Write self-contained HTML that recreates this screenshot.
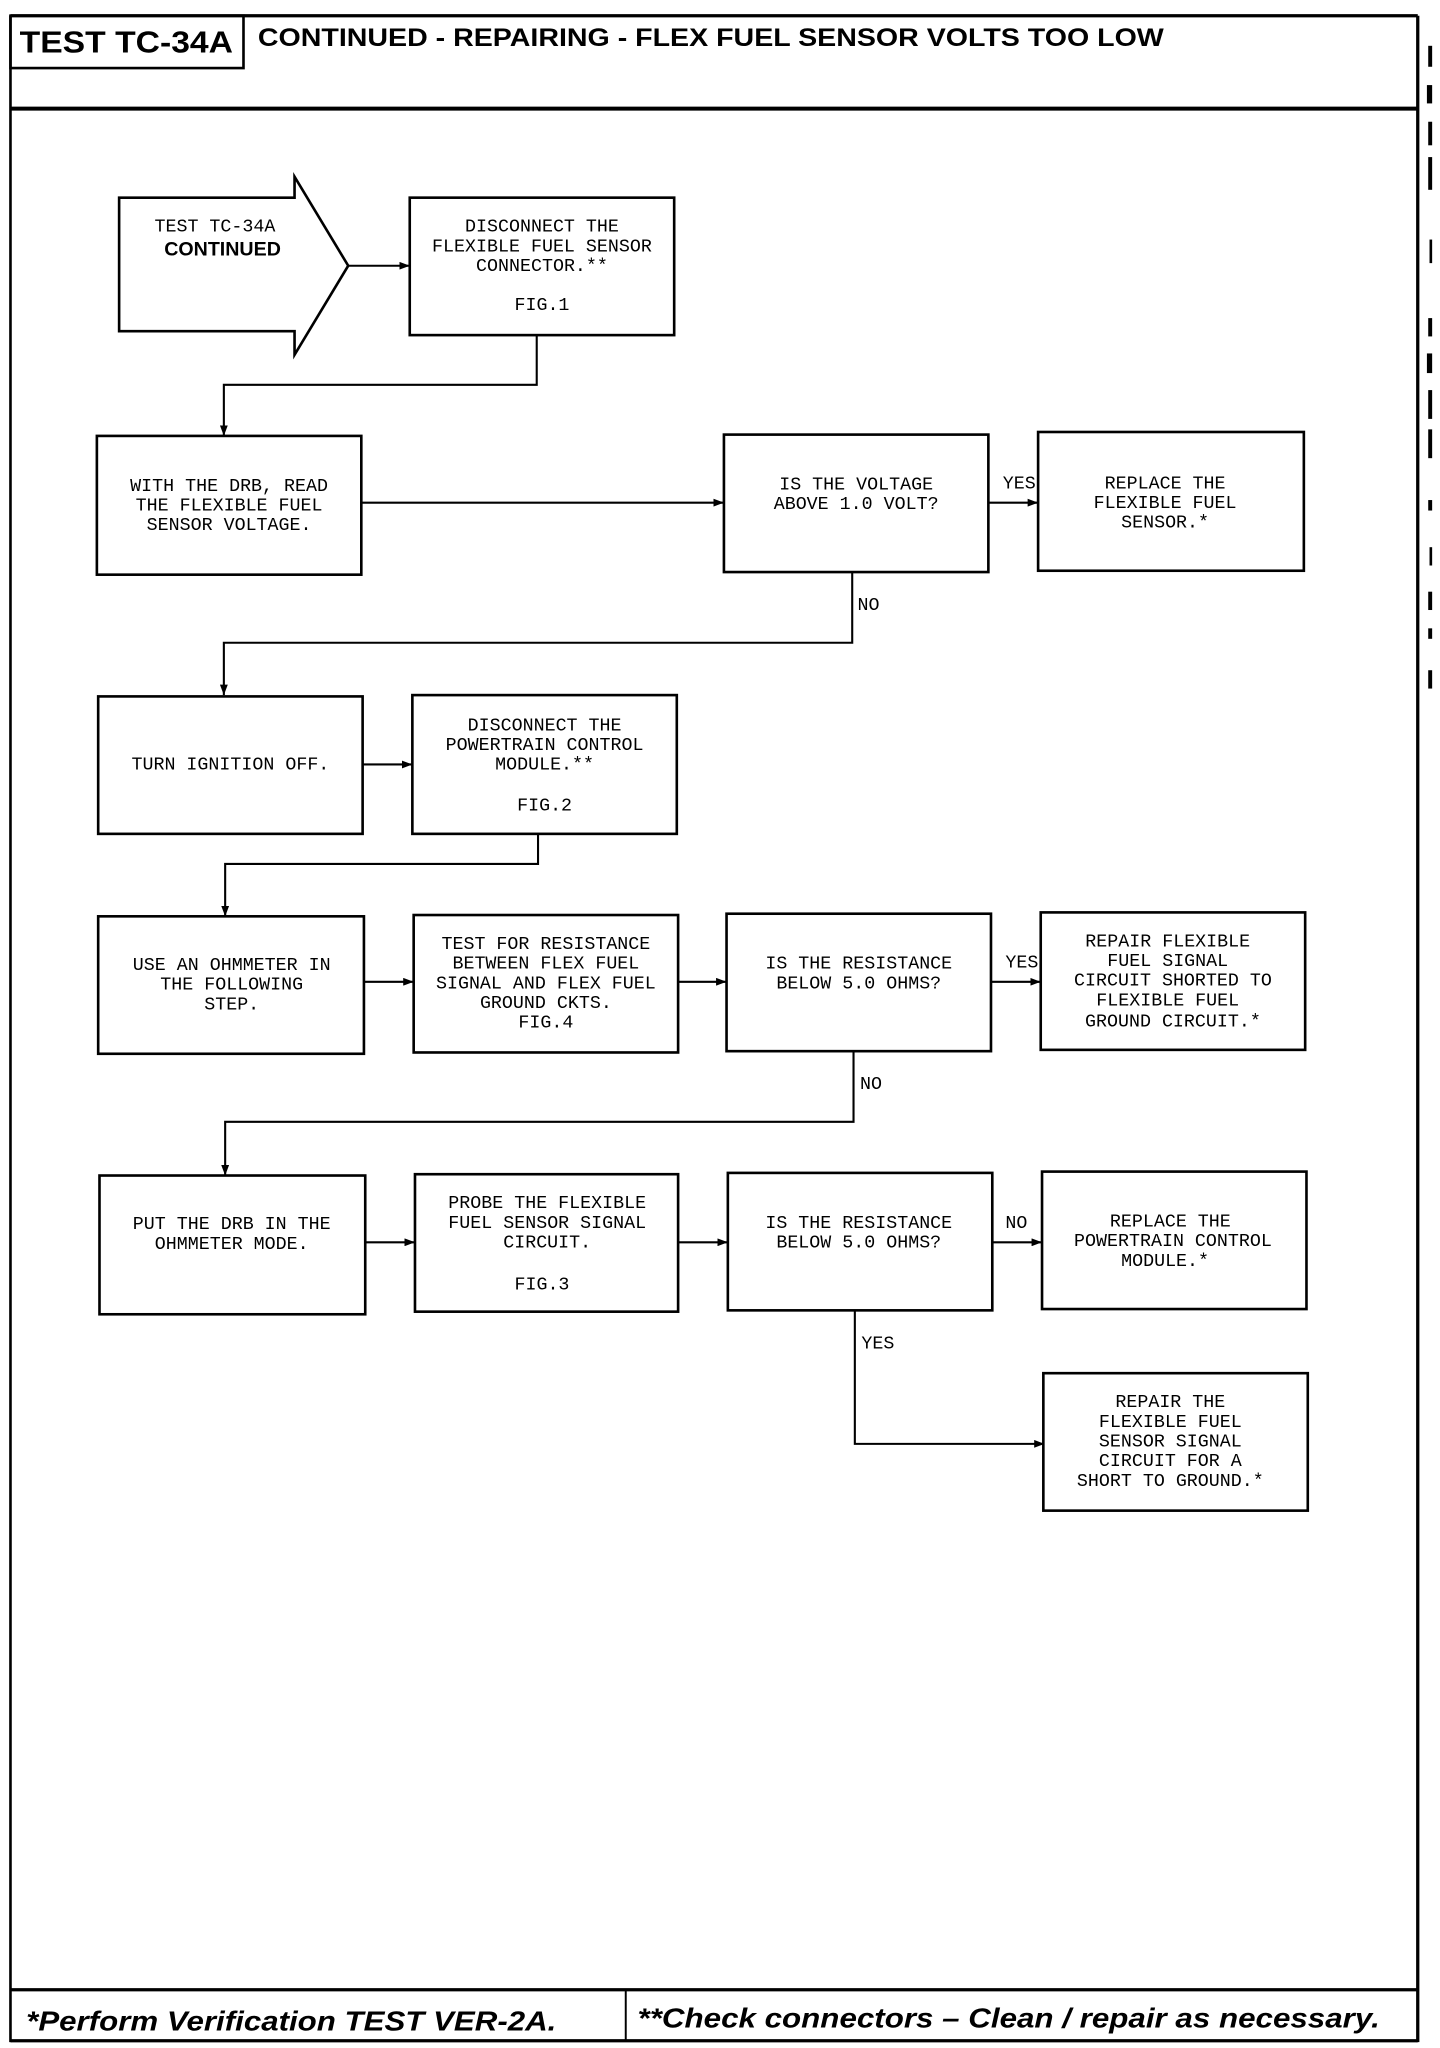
<!DOCTYPE html>
<html><head><meta charset="utf-8"><style>
html,body{margin:0;padding:0;background:#fff;}
svg{display:block;}
.t{font-family:"Liberation Mono",monospace;font-size:14px;fill:#000;text-anchor:middle;}
.l{font-family:"Liberation Mono",monospace;font-size:14px;fill:#000;}
.b{fill:#fff;stroke:#000;stroke-width:2;}
.c{fill:none;stroke:#000;stroke-width:1.6;}
</style></head><body>
<svg width="1440" height="2048" viewBox="0 0 1100 1564.5" preserveAspectRatio="none" xmlns="http://www.w3.org/2000/svg">
<defs><marker id="a" markerWidth="8" markerHeight="6" refX="8" refY="3" orient="auto" markerUnits="userSpaceOnUse"><path d="M0,0 L8,3 L0,6 z" fill="#000"/></marker></defs>
<!-- frame -->
<line x1="8" y1="12" x2="1083" y2="12" stroke="#000" stroke-width="2.5"/>
<line x1="8" y1="12" x2="8" y2="1560" stroke="#000" stroke-width="2"/>
<line x1="1083" y1="12" x2="1083" y2="1560" stroke="#000" stroke-width="2.5"/>
<line x1="8" y1="83" x2="1083" y2="83" stroke="#000" stroke-width="3"/>
<rect x="8" y="12" width="178" height="40" fill="none" stroke="#000" stroke-width="2"/>
<text x="15" y="40" style="font-family:'Liberation Sans',sans-serif;font-weight:bold;font-size:23px" textLength="163" lengthAdjust="spacingAndGlyphs">TEST TC-34A</text>
<text x="197" y="35" style="font-family:'Liberation Sans',sans-serif;font-weight:bold;font-size:19px" textLength="692" lengthAdjust="spacingAndGlyphs">CONTINUED -  REPAIRING - FLEX FUEL SENSOR VOLTS TOO LOW</text>
<!-- footer -->
<line x1="8" y1="1520" x2="1083" y2="1520" stroke="#000" stroke-width="2.5"/>
<line x1="8" y1="1559" x2="1083" y2="1559" stroke="#000" stroke-width="2.5"/>
<line x1="478" y1="1520" x2="478" y2="1559" stroke="#000" stroke-width="1.5"/>
<text x="20" y="1551" style="font-family:'Liberation Sans',sans-serif;font-weight:bold;font-style:italic;font-size:21px" textLength="405" lengthAdjust="spacingAndGlyphs">*Perform Verification TEST VER-2A.</text>
<text x="487" y="1549" style="font-family:'Liberation Sans',sans-serif;font-weight:bold;font-style:italic;font-size:21px" textLength="567" lengthAdjust="spacingAndGlyphs">**Check connectors – Clean / repair as necessary.</text>
<!-- right edge marks -->
<g fill="#000">
<rect x="1091" y="35" width="3" height="16"/><rect x="1090" y="65" width="4" height="14"/><rect x="1091" y="93" width="3" height="18"/><rect x="1091" y="120" width="3" height="25"/>
<rect x="1092" y="183" width="2" height="18"/><rect x="1091" y="243" width="3" height="14"/><rect x="1090" y="270" width="4" height="15"/><rect x="1091" y="298" width="3" height="22"/>
<rect x="1091" y="328" width="3" height="22"/><rect x="1091" y="382" width="3" height="8"/><rect x="1092" y="418" width="2" height="14"/><rect x="1091" y="452" width="3" height="14"/>
<rect x="1091" y="480" width="3" height="8"/><rect x="1091" y="512" width="3" height="14"/>
</g>
<!-- arrow shape -->
<path class="b" d="M91,151 L225,151 L225,135 L266,203 L225,271 L225,253 L91,253 Z"/>
<text class="l" x="118" y="177">TEST TC-34A</text>
<text x="170" y="195" style="font-family:'Liberation Sans',sans-serif;font-weight:bold;font-size:15px;text-anchor:middle">CONTINUED</text>
<line class="c" x1="266" y1="203" x2="313" y2="203" marker-end="url(#a)"/>
<!-- boxes -->
<rect class="b" x="313" y="151" width="202" height="105"/>
<text class="t"><tspan x="414" y="177">DISCONNECT THE</tspan><tspan x="414" y="192">FLEXIBLE FUEL SENSOR</tspan><tspan x="414" y="207">CONNECTOR.**</tspan><tspan x="414" y="237">FIG.1</tspan></text>
<polyline class="c" points="410,256 410,294 171,294 171,333" marker-end="url(#a)"/>

<rect class="b" x="74" y="333" width="202" height="106"/>
<text class="t"><tspan x="175" y="375">WITH THE DRB, READ</tspan><tspan x="175" y="390">THE FLEXIBLE FUEL</tspan><tspan x="175" y="405">SENSOR VOLTAGE.</tspan></text>
<line class="c" x1="276" y1="384" x2="553" y2="384" marker-end="url(#a)"/>

<rect class="b" x="553" y="332" width="202" height="105"/>
<text class="t"><tspan x="654" y="374">IS THE VOLTAGE</tspan><tspan x="654" y="389">ABOVE 1.0 VOLT?</tspan></text>
<line class="c" x1="755" y1="384" x2="793" y2="384" marker-end="url(#a)"/>
<text class="l" x="766" y="373">YES</text>

<rect class="b" x="793" y="330" width="203" height="106"/>
<text class="t"><tspan x="890" y="373">REPLACE THE</tspan><tspan x="890" y="388">FLEXIBLE FUEL</tspan><tspan x="890" y="403">SENSOR.*</tspan></text>

<polyline class="c" points="651,437 651,491 171,491 171,531" marker-end="url(#a)"/>
<text class="l" x="655" y="466">NO</text>

<rect class="b" x="75" y="532" width="202" height="105"/>
<text class="t" x="176" y="588">TURN IGNITION OFF.</text>
<line class="c" x1="277" y1="584" x2="315" y2="584" marker-end="url(#a)"/>

<rect class="b" x="315" y="531" width="202" height="106"/>
<text class="t"><tspan x="416" y="558">DISCONNECT THE</tspan><tspan x="416" y="573">POWERTRAIN CONTROL</tspan><tspan x="416" y="588">MODULE.**</tspan><tspan x="416" y="619">FIG.2</tspan></text>
<polyline class="c" points="411,637 411,660 172,660 172,700" marker-end="url(#a)"/>

<rect class="b" x="75" y="700" width="203" height="105"/>
<text class="t"><tspan x="177" y="741">USE AN OHMMETER IN</tspan><tspan x="177" y="756">THE FOLLOWING</tspan><tspan x="177" y="771">STEP.</tspan></text>
<line class="c" x1="278" y1="750" x2="316" y2="750" marker-end="url(#a)"/>

<rect class="b" x="316" y="699" width="202" height="105"/>
<text class="t"><tspan x="417" y="725">TEST FOR RESISTANCE</tspan><tspan x="417" y="740">BETWEEN FLEX FUEL</tspan><tspan x="417" y="755">SIGNAL AND FLEX FUEL</tspan><tspan x="417" y="770">GROUND CKTS.</tspan><tspan x="417" y="785">FIG.4</tspan></text>
<line class="c" x1="518" y1="750" x2="555" y2="750" marker-end="url(#a)"/>

<rect class="b" x="555" y="698" width="202" height="105"/>
<text class="t"><tspan x="656" y="740">IS THE RESISTANCE</tspan><tspan x="656" y="755">BELOW 5.0 OHMS?</tspan></text>
<line class="c" x1="757" y1="750" x2="795" y2="750" marker-end="url(#a)"/>
<text class="l" x="768" y="739">YES</text>

<rect class="b" x="795" y="697" width="202" height="105"/>
<text class="t"><tspan x="892" y="723">REPAIR FLEXIBLE</tspan><tspan x="892" y="738">FUEL SIGNAL</tspan><tspan x="896" y="753">CIRCUIT SHORTED TO</tspan><tspan x="892" y="768">FLEXIBLE FUEL</tspan><tspan x="896" y="784">GROUND CIRCUIT.*</tspan></text>

<polyline class="c" points="652,803 652,857 172,857 172,898" marker-end="url(#a)"/>
<text class="l" x="657" y="832">NO</text>

<rect class="b" x="76" y="898" width="203" height="106"/>
<text class="t"><tspan x="177" y="939">PUT THE DRB IN THE</tspan><tspan x="177" y="954">OHMMETER MODE.</tspan></text>
<line class="c" x1="279" y1="949" x2="317" y2="949" marker-end="url(#a)"/>

<rect class="b" x="317" y="897" width="201" height="105"/>
<text class="t"><tspan x="418" y="923">PROBE THE FLEXIBLE</tspan><tspan x="418" y="938">FUEL SENSOR SIGNAL</tspan><tspan x="418" y="953">CIRCUIT.</tspan><tspan x="414" y="985">FIG.3</tspan></text>
<line class="c" x1="518" y1="949" x2="556" y2="949" marker-end="url(#a)"/>

<rect class="b" x="556" y="896" width="202" height="105"/>
<text class="t"><tspan x="656" y="938">IS THE RESISTANCE</tspan><tspan x="656" y="953">BELOW 5.0 OHMS?</tspan></text>
<line class="c" x1="758" y1="949" x2="796" y2="949" marker-end="url(#a)"/>
<text class="l" x="768" y="938">NO</text>

<rect class="b" x="796" y="895" width="202" height="105"/>
<text class="t"><tspan x="894" y="937">REPLACE THE</tspan><tspan x="896" y="952">POWERTRAIN CONTROL</tspan><tspan x="890" y="967">MODULE.*</tspan></text>

<polyline class="c" points="653,1001 653,1103 798,1103" marker-end="url(#a)"/>
<text class="l" x="658" y="1030">YES</text>

<rect class="b" x="797" y="1049" width="202" height="105"/>
<text class="t"><tspan x="894" y="1075">REPAIR THE</tspan><tspan x="894" y="1090">FLEXIBLE FUEL</tspan><tspan x="894" y="1105">SENSOR SIGNAL</tspan><tspan x="894" y="1120">CIRCUIT FOR A</tspan><tspan x="894" y="1135">SHORT TO GROUND.*</tspan></text>
</svg>
</body></html>
